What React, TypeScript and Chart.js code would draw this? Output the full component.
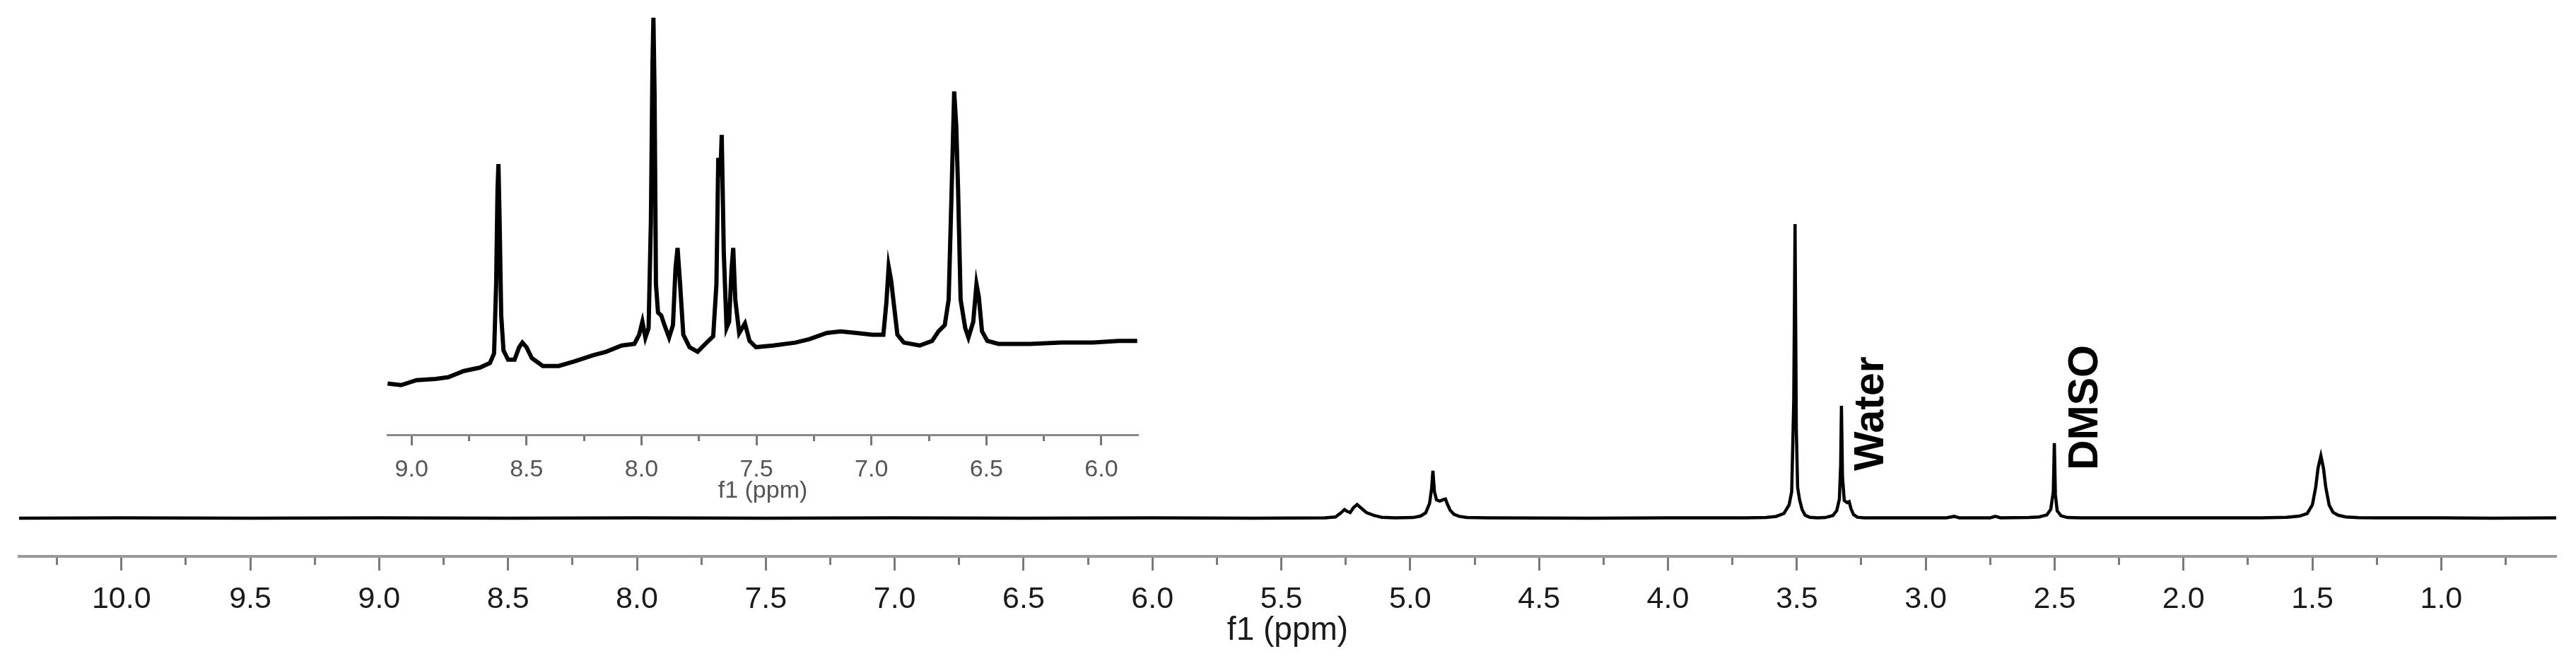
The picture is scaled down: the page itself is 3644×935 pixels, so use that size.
import React, { useEffect, useRef } from "react";
import { Chart, registerables } from "chart.js";

Chart.register(...registerables);

// ---------- Main spectrum (f1, ppm) ----------
const MAIN_PPM_MAX = 10.397;
const MAIN_PPM_MIN = 0.554;
const MAIN_Y_MIN = -13;
const MAIN_Y_MAX = 176.2;

const MAIN_MAJOR_TICKS = [10.0, 9.5, 9.0, 8.5, 8.0, 7.5, 7.0, 6.5, 6.0, 5.5, 5.0, 4.5, 4.0, 3.5, 3.0, 2.5, 2.0, 1.5, 1.0];
const MAIN_MINOR_TICKS = [10.25, 9.75, 9.25, 8.75, 8.25, 7.75, 7.25, 6.75, 6.25, 5.75, 5.25, 4.75, 4.25, 3.75, 3.25, 2.75, 2.25, 1.75, 1.25, 0.75];

const MAIN_PPM = [
  10.40, 10.0, 9.5, 9.0, 8.5, 8.0, 7.5, 7.0, 6.5, 6.0, 5.6,
  5.33, 5.29, 5.27, 5.255, 5.245, 5.233, 5.22, 5.206, 5.19, 5.17, 5.14, 5.11, 5.06,
  4.99, 4.96, 4.94, 4.925, 4.917, 4.912, 4.906, 4.898, 4.885, 4.872, 4.863, 4.855, 4.845, 4.83, 4.81, 4.78, 4.7,
  4.3, 4.0, 3.7,
  3.62, 3.58, 3.55, 3.53, 3.52, 3.512, 3.507, 3.502, 3.497, 3.49, 3.48, 3.468, 3.45, 3.42,
  3.39, 3.36, 3.345, 3.335, 3.33, 3.327, 3.323, 3.316, 3.305, 3.297, 3.29, 3.28, 3.265, 3.24,
  3.1, 2.92, 2.89, 2.87, 2.75, 2.73, 2.71, 2.6,
  2.56, 2.53, 2.515, 2.505, 2.501, 2.497, 2.49, 2.475, 2.45, 2.4,
  2.0, 1.7, 1.6, 1.55, 1.52, 1.50, 1.487, 1.478, 1.467, 1.457, 1.448, 1.435, 1.42, 1.40, 1.37, 1.32, 1.25,
  1.0, 0.8, 0.554,
];
const MAIN_INTENSITY = [
  0.0, 0.1, 0.0, 0.1, 0.0, 0.1, 0.0, 0.1, 0.0, 0.1, 0.0,
  0.1, 0.4, 1.7, 2.9, 2.3, 1.9, 3.6, 4.6, 3.4, 1.9, 0.9, 0.3, 0.1,
  0.2, 0.7, 1.8, 5.0, 10.0, 16.1, 9.0, 6.2, 5.8, 6.3, 6.5, 4.6, 2.7, 1.3, 0.6, 0.2, 0.1,
  0.0, 0.1, 0.1,
  0.2, 0.6, 1.6, 4.5, 9.0, 40, 100, 30, 10.5, 6.5, 3.0, 1.0, 0.3, 0.1,
  0.2, 0.9, 2.6, 6.5, 18, 38.2, 14, 6.0, 5.3, 5.6, 3.2, 1.2, 0.3, 0.1,
  0.1, 0.1, 0.6, 0.1, 0.1, 0.6, 0.1, 0.2,
  0.4, 1.1, 3.0, 9.0, 25.5, 8.0, 2.5, 0.8, 0.2, 0.1,
  0.1, 0.1, 0.3, 0.7, 1.6, 4.5, 10.5, 17.0, 21.2, 17.0, 10.5, 4.5, 2.0, 1.0, 0.4, 0.15, 0.1,
  0.1, 0.0, 0.1,
];

const SOLVENT_LABELS = ["Water", "DMSO"];
const SOLVENT_LABEL_PPM = [3.165, 2.334];
const SOLVENT_LABEL_LEVEL = [16.1, 16.3];

// ---------- Inset (aromatic region expansion) ----------
const INSET_PPM_MAX = 9.105;
const INSET_PPM_MIN = 5.84;
const INSET_Y_MIN = 0;
const INSET_Y_MAX = 104.24;

const INSET_MAJOR_TICKS = [9.0, 8.5, 8.0, 7.5, 7.0, 6.5, 6.0];
const INSET_MINOR_TICKS = [8.75, 8.25, 7.75, 7.25, 6.75, 6.25];

const INSET_PPM = [
  9.104, 9.046, 8.978, 8.895, 8.840, 8.772, 8.703, 8.659, 8.641, 8.632, 8.626, 8.622, 8.617, 8.610, 8.600,
  8.580, 8.552, 8.532, 8.518, 8.500, 8.477, 8.429, 8.360, 8.291, 8.209, 8.154, 8.086, 8.031, 8.010, 7.996,
  7.983, 7.969, 7.959, 7.952, 7.948, 7.943, 7.937, 7.928, 7.914, 7.900, 7.880, 7.863, 7.852, 7.843, 7.832,
  7.818, 7.791, 7.756, 7.722, 7.688, 7.674, 7.666, 7.657, 7.651, 7.642, 7.630, 7.619, 7.608, 7.601, 7.592,
  7.575, 7.550, 7.530, 7.502, 7.427, 7.331, 7.271, 7.194, 7.134, 7.065, 6.996, 6.948, 6.935, 6.925, 6.914,
  6.903, 6.887, 6.859, 6.790, 6.736, 6.708, 6.681, 6.664, 6.651, 6.640, 6.631, 6.623, 6.612, 6.592, 6.578,
  6.557, 6.543, 6.533, 6.519, 6.496, 6.447, 6.310, 6.173, 6.036, 5.926, 5.844,
];
const INSET_INTENSITY = [
  12.3, 11.9, 13.1, 13.4, 13.8, 15.3, 16.1, 17.2, 19.5, 36.1, 58.8, 64.9, 51.3, 28.6, 20.2,
  18.0, 18.0, 21.0, 22.1, 21.0, 18.4, 16.5, 16.5, 17.6, 19.1, 19.9, 21.4, 21.8, 24.0, 27.1,
  23.3, 25.6, 51.3, 89.1, 100.0, 81.5, 36.1, 29.3, 28.6, 26.3, 23.3, 26.3, 39.9, 44.8, 36.1,
  24.0, 21.0, 19.9, 21.8, 23.6, 36.1, 66.4, 61.9, 71.9, 43.7, 25.6, 27.1, 39.9, 44.8, 32.4,
  24.4, 26.7, 22.5, 21.0, 21.4, 22.1, 22.9, 24.4, 24.8, 24.4, 24.0, 24.0, 31.6, 40.3, 36.9,
  31.6, 24.0, 22.1, 21.4, 22.5, 24.8, 26.3, 32.4, 58.8, 82.3, 74.0, 58.8, 32.4, 25.6, 23.3,
  27.1, 36.1, 33.1, 24.8, 22.5, 21.8, 21.8, 22.1, 22.1, 22.5, 22.5,
];

const FONT = '"Liberation Sans", Arial, sans-serif';

const isIn = (arr: number[], v: number) => arr.some((a) => Math.abs(a - v) < 1e-9);

const solventLabelPlugin = {
  id: "solventLabels",
  afterDatasetsDraw(chart: any) {
    const { ctx, scales } = chart;
    const xs = scales.x;
    const ys = scales.y;
    ctx.save();
    ctx.font = `bold 59px ${FONT}`;
    ctx.fillStyle = "#000";
    ctx.textAlign = "left";
    ctx.textBaseline = "alphabetic";
    SOLVENT_LABELS.forEach((text, i) => {
      const px = xs.getPixelForValue(SOLVENT_LABEL_PPM[i]);
      const py = ys.getPixelForValue(SOLVENT_LABEL_LEVEL[i]);
      ctx.save();
      ctx.translate(px, py);
      ctx.rotate(-Math.PI / 2);
      ctx.fillText(text, 0, 0);
      ctx.restore();
    });
    ctx.restore();
  },
};

function makeAxis(opts: {
  min: number; max: number; major: number[]; minor: number[]; height: number;
  tickLen: number; minorLen: number; tickPad: number; fontSize: number; titleSize: number;
  titlePad: number; color: string; borderColor: string; borderWidth: number; tickColor: string; tickWidth: number;
}) {
  const all = [...opts.major, ...opts.minor].sort((a, b) => a - b);
  return {
    type: "linear",
    reverse: true,
    min: opts.min,
    max: opts.max,
    afterBuildTicks: (s: any) => {
      s.ticks = all.map((v) => ({ value: v }));
    },
    afterFit: (s: any) => {
      s.height = opts.height;
    },
    ticks: {
      autoSkip: false,
      maxRotation: 0,
      minRotation: 0,
      includeBounds: false,
      padding: opts.tickPad,
      color: opts.color,
      font: { family: FONT, size: opts.fontSize },
      callback: (v: number) => (isIn(opts.major, v) ? Number(v).toFixed(1) : ""),
    },
    grid: {
      display: true,
      drawOnChartArea: false,
      drawTicks: true,
      tickLength: opts.tickLen,
      tickColor: opts.tickColor,
      tickWidth: opts.tickWidth,
      tickBorderDash: (c: any) =>
        c && c.tick && isIn(opts.major, c.tick.value) ? [] : [opts.minorLen, 200],
    },
    border: { display: true, color: opts.borderColor, width: opts.borderWidth },
    title: {
      display: true,
      text: "f1 (ppm)",
      color: opts.color,
      font: { family: FONT, size: opts.titleSize },
      padding: { top: 0, bottom: opts.titlePad },
    },
  };
}

export default function App() {
  const mainRef = useRef<HTMLCanvasElement>(null);
  const insetRef = useRef<HTMLCanvasElement>(null);

  useEffect(() => {
    const main = new Chart(mainRef.current as HTMLCanvasElement, {
      type: "line",
      data: {
        datasets: [
          {
            data: MAIN_PPM.map((p, i) => ({ x: p, y: MAIN_INTENSITY[i] })),
            borderColor: "#000",
            borderWidth: 4.5,
            pointRadius: 0,
            tension: 0,
            fill: false,
          },
        ],
      },
      options: {
        responsive: false,
        animation: false,
        devicePixelRatio: 1,
        events: [],
        layout: { padding: { left: 27, right: 28, top: 0, bottom: 0 } },
        plugins: { legend: { display: false }, tooltip: { enabled: false } },
        scales: {
          x: makeAxis({
            min: MAIN_PPM_MIN, max: MAIN_PPM_MAX, major: MAIN_MAJOR_TICKS, minor: MAIN_MINOR_TICKS,
            height: 148, tickLen: 20, minorLen: 10, tickPad: 15, fontSize: 43, titleSize: 46, titlePad: 15,
            color: "#1a1a1a", borderColor: "#9a9a9a", borderWidth: 4, tickColor: "#7a7a7a", tickWidth: 3,
          }) as any,
          y: { type: "linear", display: false, min: MAIN_Y_MIN, max: MAIN_Y_MAX },
        },
      },
      plugins: [solventLabelPlugin],
    } as any);

    const inset = new Chart(insetRef.current as HTMLCanvasElement, {
      type: "line",
      data: {
        datasets: [
          {
            data: INSET_PPM.map((p, i) => ({ x: p, y: INSET_INTENSITY[i] })),
            borderColor: "#000",
            borderWidth: 6,
            pointRadius: 0,
            tension: 0,
            fill: false,
          },
        ],
      },
      options: {
        responsive: false,
        animation: false,
        devicePixelRatio: 1,
        events: [],
        layout: { padding: { left: 48, right: 40, top: 0, bottom: 0 } },
        plugins: { legend: { display: false }, tooltip: { enabled: false } },
        scales: {
          x: makeAxis({
            min: INSET_PPM_MIN, max: INSET_PPM_MAX, major: INSET_MAJOR_TICKS, minor: INSET_MINOR_TICKS,
            height: 101, tickLen: 15, minorLen: 7, tickPad: 14, fontSize: 34, titleSize: 34, titlePad: 1,
            color: "#555", borderColor: "#8a8a8a", borderWidth: 3, tickColor: "#777", tickWidth: 3,
          }) as any,
          y: { type: "linear", display: false, min: INSET_Y_MIN, max: INSET_Y_MAX },
        },
      },
    } as any);

    return () => {
      main.destroy();
      inset.destroy();
    };
  }, []);

  return (
    <div
      style={{
        position: "absolute",
        left: 0,
        top: 0,
        width: 3644,
        height: 935,
        background: "#fff",
        overflow: "hidden",
      }}
    >
      <canvas
        ref={mainRef}
        width={3644}
        height={935}
        style={{ position: "absolute", left: 0, top: 0, width: 3644, height: 935 }}
      />
      <canvas
        ref={insetRef}
        width={1150}
        height={716}
        style={{ position: "absolute", left: 500, top: 0, width: 1150, height: 716 }}
      />
    </div>
  );
}
